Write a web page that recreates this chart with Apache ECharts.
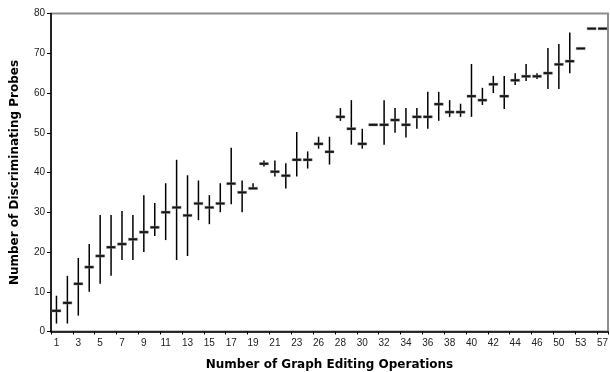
<!DOCTYPE html>
<html>
<head>
<meta charset="utf-8">
<script src="https://cdn.jsdelivr.net/npm/echarts@6/dist/echarts.min.js"></script>
<style>
  html, body { margin: 0; padding: 0; background: #fff; }
  #main { width: 610px; height: 372px; }
</style>
</head>
<body>
<div id="main"></div>
<script>
// number of graph editing operations (x categories)
var operations = ['1', '2', '3', '4', '5', '6', '7', '8', '9', '10', '11', '12', '13', '14', '15', '16', '17',
  '18', '19', '20', '21', '22', '23', '24', '26', '27', '28', '29', '30', '31', '32', '33', '34', '35', '36',
  '37', '38', '39', '40', '41', '42', '43', '44', '45', '46', '48', '50', '52', '53', '55', '57'];

// mean number of discriminating probes
var meanProbes = [5.2, 7.2, 12, 16.2, 19, 21.2, 22, 23.2, 25, 26.2, 30, 31.2, 29.2, 32.2, 31.2, 32.2, 37.2,
  35, 36, 42.2, 40.2, 39.2, 43.2, 43.2, 47.2, 45.2, 54, 51, 47.2, 52, 52, 53.2, 52, 54, 54,
  57.2, 55.2, 55.2, 59.2, 58.2, 62.2, 59.2, 63.2, 64.2, 64.2, 65, 67.2, 68, 71.2, 76.2, 76.2];

// lower and upper ends of the error bars
var lowProbes = [2, 2, 4, 10, 12, 14, 18, 18, 20, 24, 23, 18, 19, 28, 27, 30, 32, 30, 36, 41.5, 39, 36, 39, 41,
  46, 42, 53, 47, 46, 52, 47, 50, 48.8, 51, 51, 53, 54, 54, 54, 57, 60, 56, 62, 63, 63.5, 61, 61, 65, 71.2, 76.2, 76.2];
var highProbes = [9, 14, 18.5, 22, 29.3, 29.3, 30.3, 29.3, 34.3, 32.3, 37.3, 43.2, 39.3, 38, 34.3, 37.3, 46.2,
  38, 37.3, 43, 43, 42.3, 50.2, 45.3, 49, 49, 56.2, 58.2, 51, 52, 58.2, 56.2, 56.2, 56.2, 60.3,
  60.3, 58.2, 57.3, 67.3, 61.3, 64.3, 64.3, 65, 67.3, 65, 71.3, 72.3, 75.2, 71.2, 76.2, 76.2];

var yTicks = [0, 10, 20, 30, 40, 50, 60, 70, 80];

var errData = operations.map(function (op, i) {
  return [i, meanProbes[i], lowProbes[i], highProbes[i]];
});

var chart = echarts.init(document.getElementById('main'), null, { renderer: 'canvas' });

var labelFont = '"Liberation Sans", Arial, sans-serif';
var titleFont = '"DejaVu Sans", sans-serif';

var option = {
  animation: false,
  grid: {
    left: 51,
    right: 2,
    top: 13.5,
    bottom: 40.5,
    outerBoundsMode: 'none',
    containLabel: false,
    show: true,
    borderColor: '#8c8c8c',
    borderWidth: 2
  },
  xAxis: {
    type: 'category',
    data: operations,
    name: 'Number of Graph Editing Operations',
    nameLocation: 'middle',
    nameGap: 27,
    nameTextStyle: { fontFamily: titleFont, fontWeight: 'bold', fontSize: 12, color: '#000' },
    axisLine: { lineStyle: { color: '#000', width: 1.5 } },
    axisTick: { show: true, length: 3, lineStyle: { color: '#000' } },
    axisLabel: { interval: 1, fontFamily: labelFont, fontSize: 10, color: '#222', margin: 7 },
    splitLine: { show: false }
  },
  yAxis: {
    type: 'value',
    min: 0,
    max: 80,
    interval: 10,
    name: 'Number of Discriminating Probes',
    nameLocation: 'middle',
    nameGap: 30,
    nameTextStyle: { fontFamily: titleFont, fontWeight: 'bold', fontSize: 12, color: '#000' },
    axisLine: { show: true, lineStyle: { color: '#000', width: 1.5 } },
    axisTick: { show: true, length: 4, lineStyle: { color: '#000' } },
    axisLabel: {
      fontFamily: labelFont, fontSize: 10, color: '#222', margin: 6,
      formatter: function (v) { return yTicks.indexOf(v) >= 0 ? String(v) : ''; }
    },
    splitLine: { show: false }
  },
  series: [
    {
      type: 'custom',
      data: errData,
      renderItem: function (params, api) {
        var x = api.value(0);
        var mid = api.coord([x, api.value(1)]);
        var lo = api.coord([x, api.value(2)]);
        var hi = api.coord([x, api.value(3)]);
        var children = [];
        if (Math.abs(lo[1] - hi[1]) > 0.5) {
          children.push({
            type: 'line',
            shape: { x1: lo[0], y1: lo[1], x2: hi[0], y2: hi[1] },
            style: { stroke: '#000', lineWidth: 1.5 }
          });
        }
        children.push({
          type: 'rect',
          shape: { x: mid[0] - 4.5, y: mid[1] - 1.2, width: 9, height: 2.4 },
          style: { fill: '#111', stroke: '#888', lineWidth: 0.4 }
        });
        return { type: 'group', children: children };
      }
    }
  ]
};

chart.setOption(option);
</script>
</body>
</html>
